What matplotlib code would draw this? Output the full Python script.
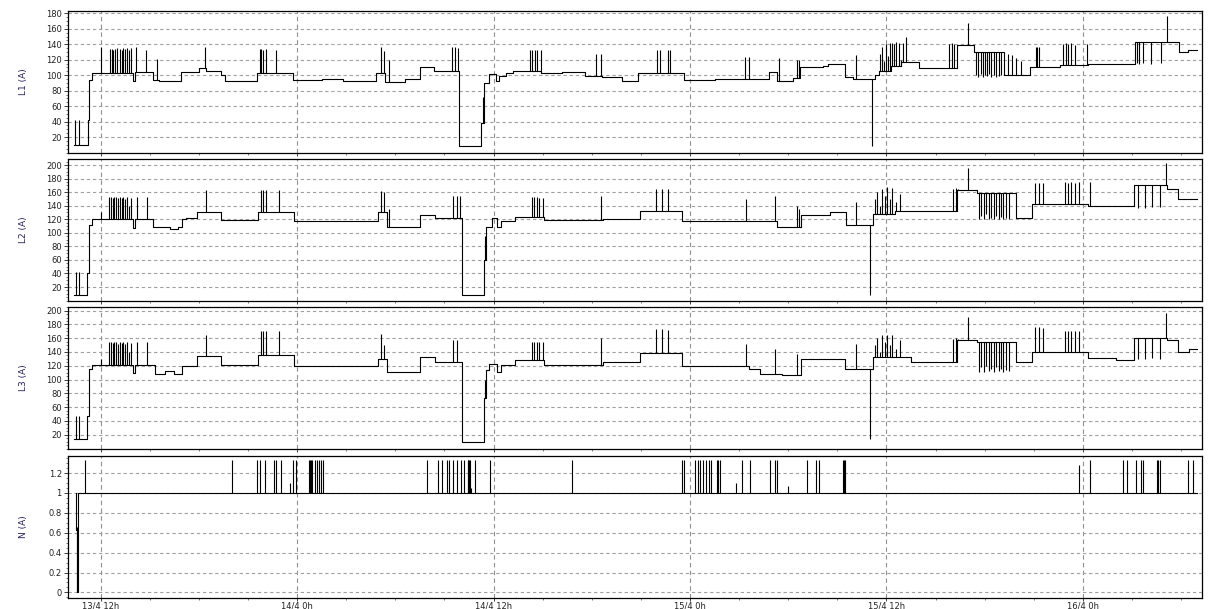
import numpy as np
import matplotlib
matplotlib.use('Agg')
import matplotlib.pyplot as plt
from matplotlib.ticker import FixedLocator, MultipleLocator, AutoMinorLocator

# x axis: hours counted from 13/4 0h
x_start, x_end, t_end = 10.0, 79.28, 78.96
tick_hours = [12, 24, 36, 48, 60, 72]
tick_labels = ['13/4 12h', '14/4 0h', '14/4 12h', '15/4 0h', '15/4 12h', '16/4 0h']

# (time, level) step changes and (time, peak) spikes for every channel
l1_steps = [(10.36, 10), (11.21, 42), (11.30, 94), (11.48, 103), (13.95, 93), (14.07, 104),
            (15.19, 94), (15.53, 92), (16.88, 104), (18.00, 109), (18.45, 106), (19.35, 100),
            (19.57, 93), (21.55, 103), (23.77, 94), (25.5, 95), (26.8, 93), (28.79, 103),
            (29.35, 91), (30.58, 95), (31.48, 110), (32.38, 105), (33.91, 8), (35.26, 38),
            (35.41, 90), (35.71, 102), (36.16, 93), (36.31, 99), (36.76, 103), (37.17, 106),
            (38.90, 103), (40.2, 104), (41.59, 99), (42.60, 97), (43.84, 93), (44.84, 103),
            (47.62, 94), (49.5, 95), (52.85, 104), (53.30, 93), (54.32, 96), (54.72, 110),
            (56.12, 112), (56.46, 115), (57.48, 98), (57.93, 95), (59.28, 100), (59.55, 106),
            (60.3, 112), (60.9, 117), (61.97, 109), (64.3, 139), (65.37, 130), (67.2, 100),
            (68.76, 110), (70.59, 113), (72.3, 115), (75.17, 143), (77.86, 130), (78.4, 133)]
l1_spikes = [(10.43, 42), (10.65, 42), (12.04, 137), (12.56, 134), (12.67, 134), (12.76, 133),
             (12.90, 134), (12.99, 135), (13.17, 134), (13.30, 133), (13.39, 135), (13.50, 134),
             (13.61, 135), (13.73, 132), (13.84, 135), (14.13, 136), (14.79, 133), (15.46, 121),
             (18.38, 137), (21.71, 134), (21.82, 134), (21.93, 133), (22.11, 134), (22.72, 133),
             (29.12, 137), (29.30, 131), (29.64, 120), (33.44, 136), (33.62, 136), (33.80, 135),
             (35.37, 72), (38.22, 133), (38.34, 133), (38.56, 132), (38.67, 133), (38.90, 133),
             (42.27, 128), (42.56, 127), (46.01, 133), (46.15, 133), (46.65, 133), (46.76, 133),
             (51.38, 124), (51.61, 124), (53.41, 122), (54.54, 120), (54.65, 120), (58.15, 126),
             (59.10, 9), (59.6, 128), (59.72, 136), (59.85, 118), (59.95, 140), (60.08, 125),
             (60.2, 141), (60.35, 142), (60.48, 140), (60.6, 143), (60.75, 141), (60.88, 120),
             (61.0, 142), (61.2, 150), (63.85, 140), (64.0, 141), (64.15, 140), (64.99, 168),
             (65.5, 100), (65.62, 98), (65.75, 102), (65.88, 97), (66.0, 100), (66.12, 99),
             (66.25, 101), (66.4, 98), (66.55, 100), (66.7, 97), (66.85, 99), (67.0, 100),
             (67.4, 127), (67.65, 126), (67.9, 122), (68.2, 118), (69.13, 137), (69.21, 137),
             (69.35, 136), (70.79, 140), (70.95, 141), (71.1, 140), (71.3, 141), (71.5, 139),
             (72.25, 140), (75.29, 116), (75.41, 115), (75.66, 116), (76.14, 115), (76.75, 116),
             (77.12, 177)]

l2_steps = [(10.39, 9), (11.19, 41), (11.28, 111), (11.46, 120), (13.97, 107), (14.07, 120),
            (15.18, 109), (16.21, 106), (16.74, 109), (16.97, 120), (17.19, 122), (17.86, 131),
            (19.34, 119), (21.58, 131), (23.81, 118), (28.91, 130), (29.50, 109), (31.51, 126),
            (32.40, 122), (34.06, 9), (35.40, 60), (35.53, 109), (35.89, 122), (36.21, 109),
            (36.43, 117), (37.32, 123), (39.11, 119), (42.69, 120), (44.93, 132), (47.53, 118),
            (53.34, 109), (54.77, 127), (56.56, 130), (57.55, 111), (59.16, 128), (60.5, 132),
            (64.3, 163), (65.51, 159), (67.9, 122), (68.87, 142), (72.3, 139), (75.13, 170),
            (77.15, 165), (77.82, 150)]
l2_spikes = [(10.48, 42), (10.70, 42), (12.04, 130), (12.49, 153), (12.6, 153), (12.72, 152),
             (12.83, 153), (12.94, 153), (13.05, 151), (13.16, 153), (13.28, 152), (13.39, 153),
             (13.50, 150), (13.61, 153), (13.72, 140), (13.83, 152), (14.19, 153), (14.82, 153),
             (18.44, 163), (21.80, 163), (21.9, 163), (22.11, 163), (22.87, 163), (29.14, 162),
             (29.32, 160), (29.6, 135), (33.52, 155), (33.74, 155), (33.97, 155), (35.45, 95),
             (38.35, 153), (38.5, 153), (38.65, 153), (38.80, 152), (39.02, 152), (42.56, 154),
             (45.91, 165), (46.27, 165), (46.63, 164), (51.42, 150), (53.21, 155), (54.55, 139),
             (54.65, 135), (58.13, 145), (59.02, 9), (59.3, 150), (59.45, 160), (59.6, 140),
             (59.75, 165), (59.9, 155), (60.05, 167), (60.2, 150), (60.35, 166), (60.6, 145),
             (60.8, 158), (64.09, 165), (64.25, 166), (64.40, 165), (64.98, 195), (65.65, 120),
             (65.8, 125), (65.95, 120), (66.1, 128), (66.25, 120), (66.4, 122), (66.55, 120),
             (66.7, 125), (66.85, 121), (67.0, 123), (67.15, 120), (67.3, 122), (67.5, 121),
             (69.09, 174), (69.3, 174), (69.54, 173), (70.88, 175), (71.1, 174), (71.3, 175),
             (71.5, 174), (71.78, 175), (72.45, 175), (75.36, 137), (75.80, 137), (76.25, 138),
             (76.70, 138), (77.06, 203)]

l3_steps = [(10.39, 14), (11.19, 47), (11.28, 116), (11.46, 121), (13.97, 109), (14.07, 121),
            (15.3, 108), (15.9, 113), (16.5, 108), (16.97, 119), (17.86, 134), (19.34, 121),
            (21.58, 135), (23.81, 119), (28.91, 130), (29.50, 111), (31.51, 133), (32.40, 126),
            (34.06, 10), (35.40, 73), (35.53, 114), (35.75, 123), (36.21, 111), (36.43, 121),
            (37.32, 128), (39.11, 121), (42.69, 126), (44.93, 138), (47.53, 119), (51.6, 116),
            (52.3, 108), (53.6, 106), (54.77, 130), (57.46, 116), (59.16, 133), (61.49, 125),
            (64.3, 157), (65.51, 154), (67.9, 125), (68.87, 140), (72.3, 131), (74.0, 128),
            (75.13, 161), (77.15, 158), (77.82, 140), (78.5, 145)]
l3_spikes = [(10.48, 47), (10.70, 47), (12.04, 130), (12.49, 154), (12.6, 154), (12.72, 153),
             (12.83, 154), (12.94, 154), (13.05, 152), (13.16, 154), (13.28, 153), (13.39, 154),
             (13.50, 151), (13.61, 154), (13.72, 140), (13.83, 153), (14.19, 154), (14.82, 154),
             (18.44, 165), (21.80, 171), (21.9, 171), (22.11, 170), (22.87, 171), (29.14, 166),
             (29.32, 150), (33.52, 158), (33.74, 158), (35.45, 100), (38.35, 155), (38.5, 155),
             (38.65, 155), (38.80, 154), (39.02, 154), (42.56, 160), (45.91, 173), (46.27, 173),
             (46.63, 172), (51.42, 152), (53.21, 145), (54.55, 137), (58.13, 152), (59.02, 14),
             (59.3, 150), (59.45, 160), (59.6, 140), (59.75, 164), (59.9, 155), (60.05, 165),
             (60.2, 150), (60.35, 164), (60.6, 145), (60.8, 158), (64.09, 159), (64.25, 160),
             (64.40, 159), (64.98, 191), (65.65, 111), (65.8, 118), (65.95, 111), (66.1, 120),
             (66.25, 112), (66.4, 115), (66.55, 111), (66.7, 118), (66.85, 112), (67.0, 116),
             (67.15, 111), (67.3, 114), (67.5, 112), (69.09, 176), (69.3, 176), (69.54, 175),
             (70.88, 171), (71.1, 171), (71.3, 170), (71.5, 171), (71.78, 171), (75.36, 130),
             (75.80, 130), (76.25, 131), (76.70, 130), (77.06, 196)]

n_steps = [(10.46, 1.0), (10.50, 0.63), (10.55, 0.0), (10.60, 0.33), (10.64, 1.0)]
n_spikes = [(10.55, 0.66), (11.06, 1.33), (20.01, 1.33), (21.57, 1.33), (21.75, 1.33), (22.02, 1.33),
            (22.56, 1.33), (22.69, 1.33), (23.01, 1.33), (23.59, 1.1), (23.77, 1.33), (23.90, 1.33),
            (24.71, 1.33), (24.80, 1.33), (24.84, 1.33), (24.89, 1.33), (25.06, 1.33), (25.24, 1.33),
            (25.33, 1.33), (25.47, 1.33), (25.56, 1.33), (31.96, 1.33), (32.58, 1.33), (32.85, 1.33),
            (33.16, 1.33), (33.30, 1.33), (33.52, 1.33), (33.74, 1.33), (34.01, 1.33), (34.19, 1.33),
            (34.42, 1.33), (34.46, 1.33), (34.51, 1.33), (34.55, 1.33), (34.64, 1.05), (34.86, 1.33),
            (35.76, 1.33), (40.77, 1.33), (47.53, 1.33), (47.62, 1.33), (48.33, 1.33), (48.51, 1.33),
            (48.64, 1.33), (48.82, 1.33), (48.96, 1.33), (49.18, 1.33), (49.27, 1.33), (49.63, 1.33),
            (49.72, 1.33), (49.85, 1.33), (50.79, 1.1), (51.15, 1.33), (51.64, 1.33), (52.89, 1.33),
            (53.21, 1.33), (53.34, 1.33), (54.01, 1.07), (55.13, 1.33), (55.67, 1.33), (55.89, 1.33),
            (57.37, 1.33), (57.42, 1.33), (57.46, 1.33), (71.78, 1.28), (72.45, 1.33), (74.46, 1.33),
            (74.68, 1.33), (75.27, 1.33), (75.58, 1.33), (75.67, 1.33), (76.56, 1.33), (76.61, 1.33),
            (76.70, 1.33), (78.40, 1.33), (78.71, 1.33)]

channels = [('L1 (A)', l1_steps, l1_spikes, (0, 183), list(range(20, 181, 20))),
            ('L2 (A)', l2_steps, l2_spikes, (0, 208.5), list(range(20, 201, 20))),
            ('L3 (A)', l3_steps, l3_spikes, (0, 206), list(range(20, 201, 20))),
            ('N (A)', n_steps, n_spikes, (-0.056, 1.375), [0, 0.2, 0.4, 0.6, 0.8, 1.0, 1.2])]
n_labels = ['0', '0.2', '0.4', '0.6', '0.8', '1', '1.2']

# axes boxes in pixels (top, bottom) of a 609 px tall figure
boxes = [(11, 152.5), (159.3, 300.6), (306.5, 448.5), (455.7, 598)]

fig = plt.figure(figsize=(12.11, 6.09), dpi=100)
left, right = 68 / 1211, 1202 / 1211

for i, (name, steps, spikes, ylim, yticks) in enumerate(channels):
    top, bot = boxes[i]
    ax = fig.add_axes([left, 1 - bot / 609, right - left, (bot - top) / 609])
    st = np.array([s[0] for s in steps] + [t_end])
    sv = np.array([s[1] for s in steps] + [steps[-1][1]])
    ax.step(st, sv, where='post', color='black', lw=0.8)
    kt = np.array([k[0] for k in spikes])
    kv = np.array([k[1] for k in spikes])
    base = sv[np.searchsorted(st, kt, side='right') - 1]
    ax.vlines(kt, base, kv, color='black', lw=0.8)

    ax.set_xlim(x_start, x_end)
    ax.set_ylim(*ylim)
    ax.yaxis.set_major_locator(FixedLocator(yticks))
    ax.yaxis.set_minor_locator(AutoMinorLocator(4))
    ax.xaxis.set_major_locator(FixedLocator(tick_hours))
    ax.xaxis.set_minor_locator(MultipleLocator(3))
    if i == 3:
        ax.set_yticklabels(n_labels)
        ax.set_xticklabels(tick_labels)
    else:
        ax.set_xticklabels([])
    ax.grid(axis='y', color='#a0a0a0', ls=(0, (3, 2.5)), lw=0.8)
    ax.grid(axis='x', color='#909090', ls=(0, (4, 3)), lw=0.8)
    ax.tick_params(axis='both', which='major', labelsize=6, length=3, width=0.6,
                   colors='#222222', pad=1.5)
    ax.tick_params(axis='x', which='major', pad=0.5, length=2)
    ax.tick_params(axis='both', which='minor', length=1.5, width=0.5, colors='#444444')
    ax.set_ylabel(name, fontsize=6.5, color='#2a2060')
    ax.yaxis.set_label_coords(-0.035, 0.5)
    for sp in ax.spines.values():
        sp.set_linewidth(0.9)

fig.savefig('out.png', dpi=100)
